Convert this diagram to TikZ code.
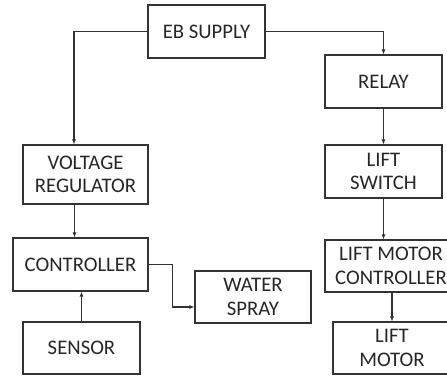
\documentclass[tikz,border=0pt]{standalone}
\usepackage{fontspec}
\setmainfont{Carlito}
\usetikzlibrary{arrows.meta}

\begin{document}
\begin{tikzpicture}[x=1bp,y=-1bp,
  blk/.style={draw=black!80,line width=1.1bp,text=black!85,align=center,inner sep=0pt,
    font=\fontsize{20.8}{23.5}\selectfont},
  con/.style={draw=black!80,line width=1.1bp,-{Latex[length=5bp,width=4bp]}}]
\useasboundingbox (0,0) rectangle (447,377);
{
\node[blk,minimum width=117bp,minimum height=53bp] (eb) at (206.5,31.5) {EB SUPPLY};
\node[blk,minimum width=117bp,minimum height=53bp] (relay) at (383.5,81.5) {RELAY};
\node[blk,minimum width=125bp,minimum height=59bp] (vr) at (85.5,174.5) {VOLTAGE\\REGULATOR};
\node[blk,minimum width=117bp,minimum height=53bp] (ls) at (383.5,171.5) {LIFT\\SWITCH};
\node[blk,minimum width=135bp,minimum height=53bp] (ctrl) at (80.5,264.5) {CONTROLLER};
\node[blk,minimum width=116bp,minimum height=52bp] (ws) at (253,297) {WATER\\SPRAY};
\node[blk,minimum width=117bp,minimum height=52bp] (sensor) at (81.5,348) {SENSOR};
\node[blk,minimum width=132bp,minimum height=52bp] (lmc) at (391,266) {LIFT MOTOR\\CONTROLLER};
\node[blk,minimum width=118bp,minimum height=52bp] (lm) at (392,348) {LIFT\\MOTOR};

\draw[con] (eb.west) -| ([xshift=-11.5bp]vr.north);
\draw[con] (eb.east) -| (relay.north);
\draw[con] (relay.south) -- (ls.north);
\draw[con] ([xshift=-11bp]vr.south) -- ([xshift=-11bp]vr.south |- ctrl.north);
\draw[con] (sensor.north) -- (sensor.north |- ctrl.south);
\draw[con] (ctrl.east) -- ++(24,0) |- ([yshift=-10bp]ws.west);
\draw[con] (ls.south) -- (ls.south |- lmc.north);
\draw[con] (lm.north |- lmc.south) -- (lm.north);
}
\end{tikzpicture}
\end{document}
